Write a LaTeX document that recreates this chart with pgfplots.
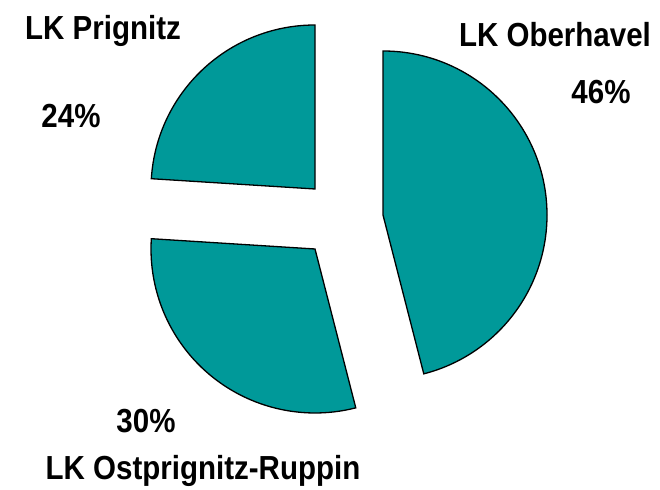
\documentclass[border=0pt]{standalone}
\usepackage{pgfplots}
\pgfplotsset{compat=1.18}
\usepackage{fontspec}
\setmainfont{Liberation Sans}
\definecolor{pieteal}{RGB}{0,153,153}
% slice: center x, center y (axis units = pt), start angle, value in percent
\newcommand{\pieslice}[4]{%
  \filldraw[fill=pieteal, draw=black, line width=1.3pt, line join=miter]
    (axis cs:#1,#2) -- ++(#3:164pt) arc[start angle=#3, delta angle={-3.6*#4}, radius=164pt] -- cycle;
}
\newcommand{\lt}[1]{\scalebox{1}[1.13]{#1}}
\tikzset{lab/.style={font=\bfseries\fontsize{29.5}{36}\selectfont, anchor=base, inner sep=0pt}}
\begin{document}
\begin{tikzpicture}
\begin{axis}[
  scale only axis, width=660pt, height=489pt,
  xmin=0, xmax=660, ymin=0, ymax=489,
  hide axis, clip=false,
]
\path (axis cs:0,0) rectangle (axis cs:660,489);
% LK Oberhavel 46%, LK Ostprignitz-Ruppin 30%, LK Prignitz 24%
\pieslice{383}{274}{90}{46}
\pieslice{315}{240}{-75.6}{30}
\pieslice{315}{300}{176.4}{24}
\node[lab] at (axis cs:103,449) {\lt{LK Prignitz}};
\node[lab] at (axis cs:71,361) {\lt{24\%}};
\node[lab] at (axis cs:555,442) {\lt{LK Oberhavel}};
\node[lab] at (axis cs:601,385) {\lt{46\%}};
\node[lab] at (axis cs:146,56) {\lt{30\%}};
\node[lab] at (axis cs:203,9) {\lt{LK Ostprignitz-Ruppin}};
\end{axis}
\end{tikzpicture}
\end{document}
